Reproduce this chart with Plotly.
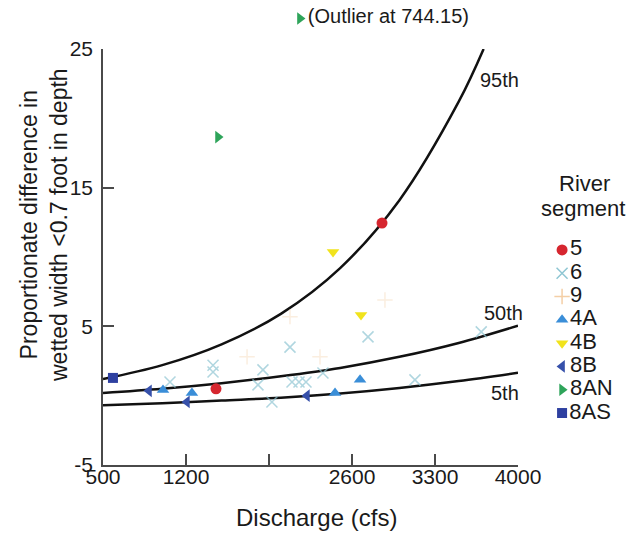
import plotly.graph_objects as go

# ---------------- data ----------------
segments = ["5", "6", "9", "4A", "4B", "8B", "8AN", "8AS"]

seg5_x = [1453, 2853]
seg5_y = [0.49, 12.45]
seg6_x = [1065, 1428, 1428, 1849, 1807, 1925, 2077, 2094, 2153, 2212, 2355, 2735, 3131, 3690]
seg6_y = [0.99, 2.2, 1.7, 1.86, 0.78, -0.45, 3.5, 0.99, 0.99, 0.99, 1.64, 4.24, 1.14, 4.6]
seg9_x = [1715, 2330, 2077, 2878]
seg9_y = [2.8, 2.8, 5.7, 6.9]
seg4A_x = [1006, 1250, 2457, 2668]
seg4A_y = [0.41, 0.2, 0.2, 1.14]
seg4B_x = [2440, 2676]
seg4B_y = [10.36, 5.82]
seg8B_x = [888, 1208, 2220]
seg8B_y = [0.35, -0.45, 0.0]
seg8AN_x = [1470]
seg8AN_y = [18.65]
seg8AS_x = [584]
seg8AS_y = [1.28]

outlier_x = 2161
outlier_value = 744.15
outlier_display_y = 27.2

# percentile curves
p95_x = [500, 1000, 1500, 2000, 2500, 3000, 3500, 3710]
p95_y = [1.2, 2.2, 3.7, 5.9, 9.2, 14.1, 21.2, 25.0]
p50_x = [500, 1000, 1500, 2000, 2500, 3000, 3500, 4000]
p50_y = [0.2, 0.5, 0.9, 1.4, 2.0, 2.8, 3.8, 5.05]
p5_x = [500, 1000, 1500, 2000, 2500, 3000, 3500, 4000]
p5_y = [-0.7, -0.55, -0.35, -0.15, 0.15, 0.55, 1.05, 1.65]

x_ticks = [500, 1200, 1900, 2600, 3300, 4000]
x_ticktext = ["500", "1200", "", "2600", "3300", "4000"]
y_ticks = [-5, 5, 15, 25]
y_ticktext = ["-5", "5", "15", "25"]

# ---------------- styles ----------------
FONT = "Liberation Sans, Arial, sans-serif"
TXT = "#1a1a1a"
AX = "#4a4a4a"

styles = {
    "5":   dict(symbol="circle", size=11, color="#d6262f"),
    "6":   dict(symbol="x-thin", size=11, color="#8fc6d3", line=dict(width=1.5, color="#8fc6d3")),
    "9":   dict(symbol="cross-thin", size=11, color="#f4cfa6", line=dict(width=1.5, color="#f4cfa6")),
    "4A":  dict(symbol="triangle-up", size=11, color="#3a8ed8"),
    "4B":  dict(symbol="triangle-down", size=11, color="#f1e31c"),
    "8B":  dict(symbol="triangle-left", size=11, color="#3650aa"),
    "8AN": dict(symbol="triangle-right", size=11, color="#2ea45a"),
    "8AS": dict(symbol="square", size=10, color="#2e40a0"),
}
plot_opacity = {"6": 0.7, "9": 0.35}

series = {
    "5": (seg5_x, seg5_y), "6": (seg6_x, seg6_y), "9": (seg9_x, seg9_y),
    "4A": (seg4A_x, seg4A_y), "4B": (seg4B_x, seg4B_y), "8B": (seg8B_x, seg8B_y),
    "8AN": (seg8AN_x, seg8AN_y), "8AS": (seg8AS_x, seg8AS_y),
}

fig = go.Figure()

# curves
for cx, cy in [(p95_x, p95_y), (p50_x, p50_y), (p5_x, p5_y)]:
    fig.add_trace(go.Scatter(x=cx, y=cy, mode="lines", line=dict(color="#111111", width=2.5, shape="spline"),
                             showlegend=False, hoverinfo="skip"))

# points
for seg in segments:
    sx, sy = series[seg]
    fig.add_trace(go.Scatter(x=sx, y=sy, mode="markers", name=seg, marker=styles[seg],
                             opacity=plot_opacity.get(seg, 1.0), showlegend=False))

# outlier marker above plot (on an extended copy of the same x/y scales)
fig.add_trace(go.Scatter(x=[outlier_x], y=[outlier_display_y], mode="markers+text",
                         marker=styles["8AN"], text=[f"(Outlier at {outlier_value})"],
                         textposition="middle right", textfont=dict(family=FONT, size=20, color=TXT),
                         xaxis="x3", yaxis="y3", cliponaxis=False, showlegend=False))

# manual legend on auxiliary axes
for i, seg in enumerate(segments):
    fig.add_trace(go.Scatter(x=[0], y=[-i], mode="markers+text", marker=styles[seg], text=[seg],
                             textposition="middle right", textfont=dict(family=FONT, size=22, color=TXT),
                             xaxis="x2", yaxis="y2", cliponaxis=False, showlegend=False, hoverinfo="skip"))

curve_labels = [("95th", 3840, 22.8), ("50th", 3874, 5.97), ("5th", 3890, 0.2)]
annotations = [dict(x=x, y=y, xref="x", yref="y", text=t, showarrow=False,
                    font=dict(family=FONT, size=20, color=TXT)) for t, x, y in curve_labels]


def paper_text(text, px, py, size, angle=0):
    return dict(x=px / 642, y=1 - py / 533, xref="paper", yref="paper", text=text, showarrow=False,
                xanchor="center", yanchor="middle", textangle=angle,
                font=dict(family=FONT, size=size, color=TXT))


annotations += [
    paper_text("Proportionate difference in<br>wetted width &lt;0.7 foot in depth", 44, 225, 23, -90),
    paper_text("Discharge (cfs)", 316, 517, 24),
    paper_text("River", 584, 184, 22),
    paper_text("segment", 583, 208, 22),
]

y_px_per_unit = 416 / 30.0
XDOM = [103 / 642, 518 / 642]
fig.update_layout(
    width=642, height=533, margin=dict(l=0, r=0, t=0, b=0),
    paper_bgcolor="white", plot_bgcolor="rgba(0,0,0,0)",
    showlegend=False,
    xaxis=dict(domain=XDOM, range=[500, 4000], tickvals=x_ticks, ticktext=x_ticktext,
               ticks="inside", ticklen=11, tickwidth=1.5, tickcolor=AX, showline=True, linecolor=AX,
               linewidth=1.5, showgrid=False, zeroline=False, automargin=False, ticklabelstandoff=-8,
               tickfont=dict(family=FONT, size=21, color=TXT)),
    yaxis=dict(domain=[68 / 533, 484 / 533], range=[-5, 25], tickvals=y_ticks, ticktext=y_ticktext,
               ticks="inside", ticklen=11, tickwidth=1.5, tickcolor=AX, showline=True, linecolor=AX,
               linewidth=1.5, showgrid=False, zeroline=False, automargin=False, ticklabelstandoff=4,
               tickfont=dict(family=FONT, size=21, color=TXT)),
    xaxis3=dict(domain=XDOM, range=[500, 4000], visible=False, anchor="y3", fixedrange=True),
    yaxis3=dict(domain=[68 / 533, 1], range=[-5, -5 + 465 / y_px_per_unit], visible=False,
                anchor="x3", fixedrange=True),
    xaxis2=dict(domain=[0.85, 1.0], range=[-0.17, 0.83], visible=False, fixedrange=True, anchor="y2"),
    yaxis2=dict(domain=[0, 1], range=[-12.15, 10.73], visible=False, fixedrange=True, anchor="x2"),
    annotations=annotations,
)

fig.write_html("out.html")
